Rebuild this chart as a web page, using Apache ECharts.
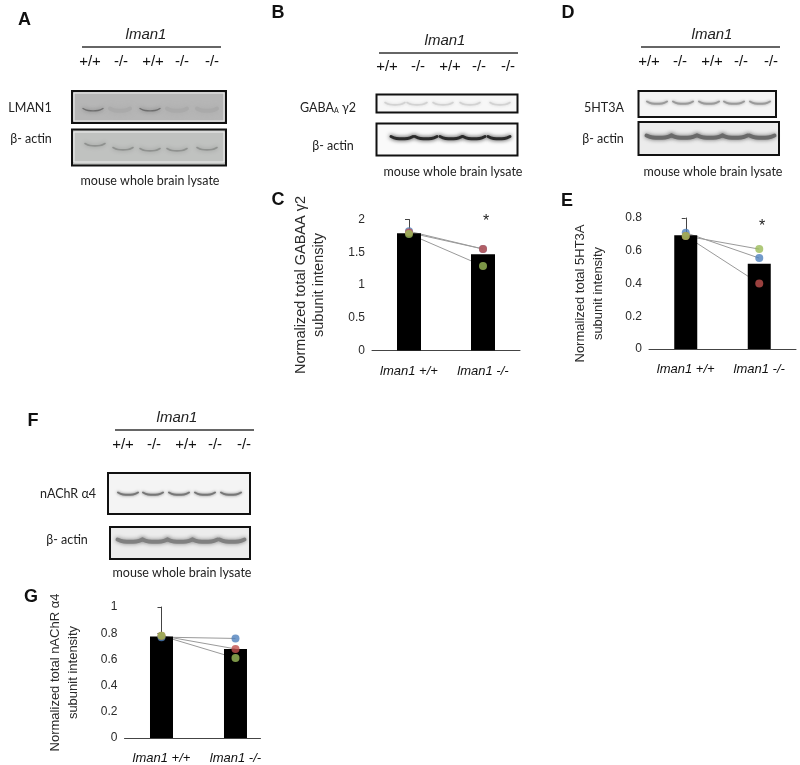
<!DOCTYPE html>
<html><head><meta charset="utf-8">
<style>html,body{margin:0;padding:0;background:#fff}#c{width:800px;height:765px}</style>
<script src="https://cdn.jsdelivr.net/npm/echarts@6/dist/echarts.min.js"></script>
</head><body><div id="c"></div>
<script>
// ---- data ----
const groups = ['lman1 +/+', 'lman1 -/-'];
const genotypes = ['+/+', '-/-', '+/+', '-/-', '-/-'];
const miceNames = ['Mouse 1', 'Mouse 2', 'Mouse 3'];

const gabaBars = [1.79, 1.47];
const gabaMouse1 = [1.82, 1.55];
const gabaMouse2 = [1.80, 1.55];
const gabaMouse3 = [1.78, 1.29];

const htBars = [0.695, 0.52];
const htMouse1 = [0.71, 0.555];
const htMouse2 = [0.69, 0.40];
const htMouse3 = [0.69, 0.61];

const achBars = [0.775, 0.68];
const achMouse1 = [0.77, 0.76];
const achMouse2 = [0.78, 0.68];
const achMouse3 = [0.78, 0.61];

// ---- styles ----
const ARIAL = '"Liberation Sans", Arial, sans-serif';
const CAL = 'Lato, "Open Sans", sans-serif';
const mouseColors = ['#4f81bd', '#c0504d', '#9bbb59'];
const TXT = '#2a2a2a';

const grids = [], xAxes = [], yAxes = [], series = [];
function addPanel(cfg) {
  const i = grids.length;
  grids.push({left: cfg.left, top: cfg.top, width: cfg.width, height: cfg.height});
  xAxes.push({
    type: 'value', gridIndex: i, min: -0.5, max: cfg.xMax, splitLine: {show: false},
    axisLine: {show: true, onZero: false, lineStyle: {color: '#444', width: 1}},
    axisTick: {show: false},
    axisLabel: {
      customValues: [0, 1], margin: 14, color: '#111', fontFamily: ARIAL, fontStyle: 'italic', fontSize: 13,
      formatter: v => groups[v]
    }
  });
  yAxes.push({
    type: 'value', gridIndex: i, min: 0, max: cfg.yMax, interval: cfg.step, splitLine: {show: false},
    axisLine: {show: true, lineStyle: {color: '#444', width: 1}},
    axisTick: {show: true, length: 4, lineStyle: {color: '#444'}},
    axisLabel: {color: TXT, fontFamily: ARIAL, fontSize: 12, margin: 7},
    name: cfg.name, nameLocation: 'middle', nameGap: cfg.nameGap, nameRotate: 90,
    nameTextStyle: {color: TXT, fontFamily: ARIAL, fontSize: cfg.nameSize, lineHeight: 18, padding: cfg.namePad || 0}
  });
  cfg.mice.forEach((vals, m) => {
    series.push({
      type: 'line', name: miceNames[m], xAxisIndex: i, yAxisIndex: i, z: 1, symbol: 'none', silent: true,
      lineStyle: {color: '#9a9a9a', width: 1}, data: vals.map((v, k) => [k, v])
    });
  });
  series.push({
    type: 'bar', xAxisIndex: i, yAxisIndex: i, z: 2, barWidth: cfg.barW, itemStyle: {color: '#000'},
    data: cfg.bars.map((v, k) => [k, v])
  });
  cfg.mice.forEach((vals, m) => {
    series.push({
      type: 'scatter', name: miceNames[m], xAxisIndex: i, yAxisIndex: i, z: 3 + (m === 1 ? 1 : m === 2 ? 2 : 0),
      symbol: 'circle', symbolSize: 8, itemStyle: {color: mouseColors[m]}, data: vals.map((v, k) => [k, v])
    });
  });
}
addPanel({left: 372, top: 219.5, width: 148, height: 131, xMax: 1.5, yMax: 2, step: 0.5, barW: 24,
  bars: gabaBars, mice: [gabaMouse1, gabaMouse2, gabaMouse3],
  name: 'Normalized total GABAA γ2\nsubunit intensity', nameGap: 44, nameSize: 14.5});
addPanel({left: 649, top: 218, width: 147, height: 131, xMax: 1.5, yMax: 0.8, step: 0.2, barW: 23,
  bars: htBars, mice: [htMouse1, htMouse2, htMouse3],
  name: 'Normalized total 5HT3A\nsubunit intensity', nameGap: 42, nameSize: 13, namePad: [0, 20, 0, 0]});
addPanel({left: 124.5, top: 607, width: 136, height: 131.7, xMax: 1.338, yMax: 1, step: 0.2, barW: 23,
  bars: achBars, mice: [achMouse1, achMouse2, achMouse3],
  name: 'Normalized total nAChR α4\nsubunit intensity', nameGap: 42, nameSize: 13});

// ---- annotation + blot artwork ----
const g = [];
function txt(x, y, s, o) {
  g.push({type: 'text', x, y, silent: true, z: 10, style: Object.assign({
    text: s, align: 'center', verticalAlign: 'middle', fill: TXT, font: '12px ' + ARIAL}, o || {})});
}
function box(x0, y0, x1, y1, fill) {
  g.push({type: 'rect', silent: true, z: 5, shape: {x: x0, y: y0, width: x1 - x0, height: y1 - y0},
    style: {fill, stroke: '#111', lineWidth: 2}});
}
function inner(x0, y0, x1, y1, fill) {
  g.push({type: 'rect', silent: true, z: 5, shape: {x: x0, y: y0, width: x1 - x0, height: y1 - y0},
    style: {fill, stroke: '#eee', lineWidth: 1}});
}
function bands(xs, y, w, t, color, blur) {
  xs.forEach((cx, i) => {
    const yy = Array.isArray(y) ? y[i] : y;
    g.push({type: 'polyline', silent: true, z: 6,
      shape: {smooth: 0.4, points: [[cx - w / 2, yy - 1.5], [cx - w / 4, yy + 0.5], [cx + w / 4, yy + 0.5], [cx + w / 2, yy - 1.5]]},
      style: {fill: 'none', stroke: color, lineWidth: t, lineCap: 'round', shadowBlur: blur, shadowColor: color}});
  });
}
function header(cx, yTitle, lineL, lineR, lineY, xs, yLab) {
  txt(cx, yTitle, 'lman1', {font: 'italic 15px ' + ARIAL, fill: '#222'});
  g.push({type: 'line', silent: true, z: 10, shape: {x1: lineL, y1: lineY, x2: lineR, y2: lineY}, style: {stroke: '#333', lineWidth: 1.3}});
  xs.forEach((x, i) => txt(x, yLab, genotypes[i], {font: '15px ' + ARIAL, fill: '#111'}));
}
const LETTER = 'bold 18px ' + ARIAL;
const CALF = '12.5px ' + CAL;
// A
txt(24.5, 20, 'A', {font: LETTER, fill: '#111'});
header(146, 35, 82, 221, 47, [90, 121, 153, 182, 212], 62);
box(72, 91, 226, 123, '#b4b4b4'); inner(74, 93, 224, 121, '#b6b6b6');
bands([93, 150], 110, 20, 1.4, '#6e6e6e', 4);
bands([120, 177, 207], 110, 20, 4, '#aaaaaa', 6);
box(72, 129.5, 226, 165.5, '#c0c2c0'); inner(74, 132, 224, 162, '#c0c2c0');
bands([95, 123, 150, 177, 207], [145, 149, 150, 150, 149], 20, 1.6, '#8f918f', 4);
txt(30, 108, 'LMAN1', {font: CALF, fill: '#222'});
txt(31, 139, 'β- actin', {font: CALF, fill: '#222'});
txt(150, 181, 'mouse whole brain lysate', {font: CALF, fill: '#222'});
// B
txt(278, 13, 'B', {font: LETTER, fill: '#111'});
header(445, 41, 379, 518, 53, [387, 418, 450, 479, 508], 67);
box(376.5, 94.5, 517.5, 112.5, '#f7f7f7');
bands([395, 417, 443, 470, 500], 104, 20, 1.6, '#d2d2d2', 3);
box(376.5, 123.5, 517.5, 155.5, '#fafafa');
bands([402, 426, 451, 474, 499], 138, 22, 3, '#2b2b2b', 4);
g.push({type: 'text', x: 328, y: 108, silent: true, z: 10, style: {
  text: '{a|GABA}{s|A}{a| γ2}', align: 'center', verticalAlign: 'middle', fill: '#222',
  rich: {a: {font: CALF, fill: '#222'}, s: {font: '7px ' + CAL, fill: '#222', verticalAlign: 'bottom'}}}});
txt(333, 146, 'β- actin', {font: CALF, fill: '#222'});
txt(453, 172, 'mouse whole brain lysate', {font: CALF, fill: '#222'});
// D
txt(568, 13, 'D', {font: LETTER, fill: '#111'});
header(712, 35, 641, 780, 47, [649, 680, 712, 741, 771], 62);
box(638.5, 91, 776, 117, '#f4f4f4');
bands([657, 683, 709, 734, 760], 103, 20, 2, '#9a9a9a', 3);
box(638.5, 122, 779, 155, '#ececec');
bands([659, 684, 710, 735, 762], 137, 25, 4, '#6a6a6a', 4);
txt(604, 108, '5HT3A', {font: CALF, fill: '#222'});
txt(603, 139, 'β- actin', {font: CALF, fill: '#222'});
txt(713, 172, 'mouse whole brain lysate', {font: CALF, fill: '#222'});
// F
txt(33, 421, 'F', {font: LETTER, fill: '#111'});
header(177, 418, 115, 254, 430, [123, 154, 186, 215, 244], 445);
box(108, 473, 250, 514, '#f4f4f4');
bands([128, 153, 179, 205, 231], 494, 20, 2, '#777', 3);
box(110, 527, 250, 559, '#ececec');
bands([130, 155, 180, 205, 232], 541, 25, 4, '#808080', 4);
txt(68, 494, 'nAChR α4', {font: CALF, fill: '#222'});
txt(67, 540, 'β- actin', {font: CALF, fill: '#222'});
txt(182, 573, 'mouse whole brain lysate', {font: CALF, fill: '#222'});
// C, E, G letters and significance marks
txt(278, 200, 'C', {font: LETTER, fill: '#111'});
txt(567, 201, 'E', {font: LETTER, fill: '#111'});
txt(31, 597, 'G', {font: LETTER, fill: '#111'});
txt(486, 222, '*', {font: '16px ' + ARIAL, fill: '#222'});
txt(762, 227, '*', {font: '16px ' + ARIAL, fill: '#222'});

const chart = echarts.init(document.getElementById('c'), null, {renderer: 'canvas'});
chart.setOption({
  animation: false, backgroundColor: '#fff', tooltip: {show: false},
  grid: grids, xAxis: xAxes, yAxis: yAxes, series, graphic: {elements: g}
});
</script></body></html>
